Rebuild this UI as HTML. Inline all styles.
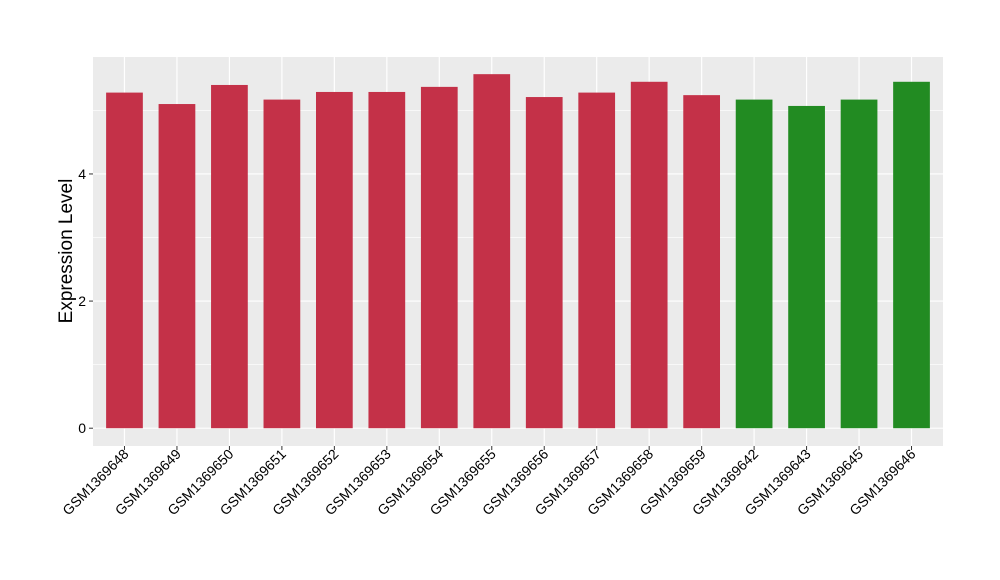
<!DOCTYPE html>
<html><head><meta charset="utf-8"><style>
body{margin:0;background:#fff;}
svg{display:block;font-family:"Liberation Sans",sans-serif;}
</style></head><body>
<svg id="chart" width="1000" height="580">
<rect x="93" y="57" width="850" height="389" fill="#ebebeb"/>
<g id="grid"></g><g id="bars"></g><g id="axes"></g>
<text transform="translate(72,251) rotate(-90)" text-anchor="middle" font-size="19" fill="#000">Expression Level</text>
</svg>
<script>
const categories=["GSM1369648","GSM1369649","GSM1369650","GSM1369651","GSM1369652","GSM1369653","GSM1369654","GSM1369655","GSM1369656","GSM1369657","GSM1369658","GSM1369659","GSM1369642","GSM1369643","GSM1369645","GSM1369646"];
const values=[5.28,5.10,5.40,5.17,5.29,5.29,5.37,5.57,5.21,5.28,5.45,5.24,5.17,5.07,5.17,5.45];
const groups=["a","a","a","a","a","a","a","a","a","a","a","a","b","b","b","b"];
const yTicks=[0,2,4];
const yMinor=[1,3,5];
const NS="http://www.w3.org/2000/svg";
const px0=93,px1=943,py0=57,py1=446;
const yMin=-0.28,yMax=5.84;
function y(v){return py1-(v-yMin)/(yMax-yMin)*(py1-py0);}
const unit=(px1-px0)/(categories.length+0.2);
function x(i){return px0+(i+0.6)*unit;}
function mk(tag,attrs,parent){const e=document.createElementNS(NS,tag);for(const k in attrs)e.setAttribute(k,attrs[k]);parent.appendChild(e);return e;}
const grid=document.getElementById('grid'),bars=document.getElementById('bars'),axes=document.getElementById('axes');
yMinor.forEach(v=>{const l=mk('line',{x1:px0,x2:px1,y1:y(v),y2:y(v),stroke:'#fff','stroke-width':0.6},grid);

});
yTicks.forEach(v=>{const l=mk('line',{x1:px0,x2:px1,y1:y(v),y2:y(v),stroke:'#fff','stroke-width':1.2},grid);


const t=mk('line',{x1:px0-4,x2:px0,y1:y(v),y2:y(v),stroke:'#333','stroke-width':1},axes);


const tx=mk('text',{x:px0-7,y:y(v)+5,'text-anchor':'end','font-size':14,fill:'#000'},axes);
tx.textContent=v;

});
const bw=0.7*unit;
categories.forEach((c,i)=>{const cx=x(i);
const g=mk('line',{x1:cx,x2:cx,y1:py0,y2:py1,stroke:'#fff','stroke-width':1.2},grid);


const r=mk('rect',{x:cx-bw/2,y:y(values[i]),width:bw,height:y(0)-y(values[i]),fill:groups[i]==='a'?'#c43148':'#228b22'},bars);


const t=mk('line',{x1:cx,x2:cx,y1:py1,y2:py1+4,stroke:'#333','stroke-width':1},axes);


const tx=mk('text',{transform:`translate(${cx+5},${py1+9}) rotate(-45)`,'text-anchor':'end','font-size':14,fill:'#000'},axes);
tx.textContent=c;

});
</script>
</body></html>
